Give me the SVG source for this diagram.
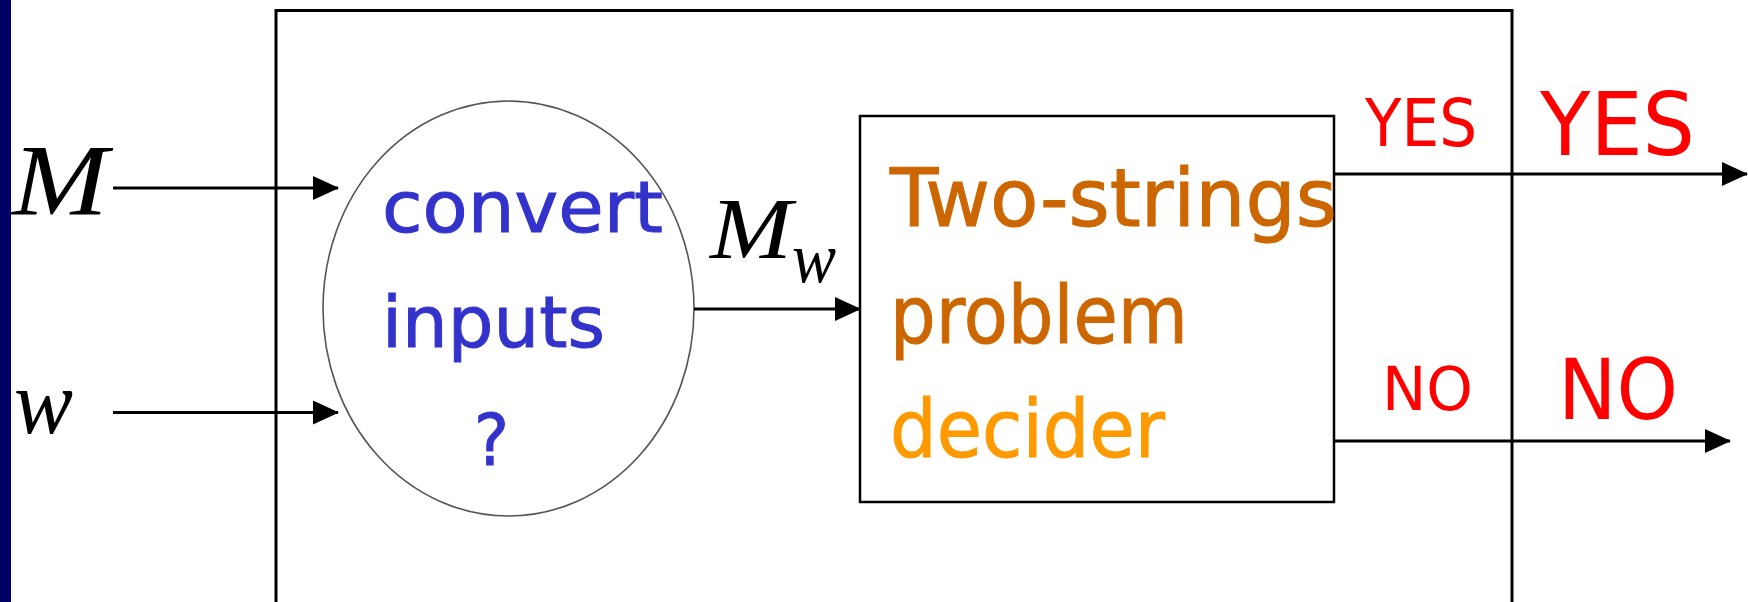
<svg xmlns="http://www.w3.org/2000/svg" width="1748" height="602" viewBox="0 0 1748 602">
<defs>
<marker id="ah" markerWidth="26" markerHeight="24" refX="25" refY="12" orient="auto" markerUnits="userSpaceOnUse">
<path d="M0,0 L26,12 L0,24 Z" fill="#000"/>
</marker>
<style>
.ln{stroke:#000;stroke-width:2.8;fill:none}
.math{font-family:"Liberation Serif",serif;font-style:italic;fill:#000}
.hand{font-family:"Comic Sans MS","DejaVu Sans",sans-serif;stroke-width:1;}
.red{font-family:"DejaVu Sans",sans-serif;fill:#FF0000}
</style>
</defs>
<rect x="0" y="0" width="1748" height="602" fill="#fff"/>
<rect x="0" y="0" width="11" height="602" fill="#000066"/>
<g id="outer-box">
<path d="M276,602 V10.5 H1512 V602" fill="none" stroke="#000" stroke-width="3"/>
</g>
<g id="label-M"><text class="math" x="12" y="215" font-size="101" textLength="96" lengthAdjust="spacingAndGlyphs">M</text></g>
<g id="label-w"><text class="math" x="14" y="433" font-size="92" textLength="59" lengthAdjust="spacingAndGlyphs">w</text></g>
<g id="converter">
<ellipse cx="508.5" cy="308.5" rx="185.5" ry="207.5" fill="none" stroke="#555" stroke-width="1.6"/>
<text class="hand" fill="#3333CC" stroke="#3333CC" font-size="72" x="382" y="232" textLength="281" lengthAdjust="spacingAndGlyphs">convert</text>
<text class="hand" fill="#3333CC" stroke="#3333CC" font-size="72" x="382" y="347" textLength="223" lengthAdjust="spacingAndGlyphs">inputs</text>
<text class="hand" fill="#3333CC" stroke="#3333CC" font-size="72" x="474" y="465" textLength="35" lengthAdjust="spacingAndGlyphs">?</text>
</g>
<g id="label-Mw">
<text class="math" x="710" y="258" font-size="86" textLength="82" lengthAdjust="spacingAndGlyphs">M</text>
<text class="math" x="792" y="282" font-size="71" textLength="44" lengthAdjust="spacingAndGlyphs">w</text>
</g>
<g id="decider">
<rect x="860" y="116" width="474" height="386" fill="none" stroke="#000" stroke-width="2.5"/>
<text class="hand" fill="#CC6600" stroke="#CC6600" font-size="80" x="890" y="226" textLength="447" lengthAdjust="spacingAndGlyphs">Two-strings</text>
<text class="hand" fill="#CC6600" stroke="#CC6600" font-size="80" x="890" y="343" textLength="298" lengthAdjust="spacingAndGlyphs">problem</text>
<text class="hand" fill="#FF9900" stroke="#FF9900" font-size="80" x="890" y="457" textLength="275" lengthAdjust="spacingAndGlyphs">decider</text>
</g>
<g id="connectors">
<line class="ln" x1="113" y1="188" x2="338" y2="188" marker-end="url(#ah)"/>
<line class="ln" x1="113" y1="412.5" x2="338" y2="412.5" marker-end="url(#ah)"/>
<line class="ln" x1="694" y1="309" x2="860" y2="309" marker-end="url(#ah)"/>
<line class="ln" x1="1334" y1="174" x2="1747" y2="174" marker-end="url(#ah)"/>
<line class="ln" x1="1334" y1="441" x2="1730" y2="441" marker-end="url(#ah)"/>
</g>
<g id="labels-out">
<text class="red" x="1365" y="146" font-size="66" textLength="112" lengthAdjust="spacingAndGlyphs">YES</text>
<text class="red" x="1382" y="410" font-size="61" textLength="91" lengthAdjust="spacingAndGlyphs">NO</text>
<text class="red" x="1540" y="155" font-size="88" textLength="155" lengthAdjust="spacingAndGlyphs">YES</text>
<text class="red" x="1558" y="419" font-size="84" textLength="120" lengthAdjust="spacingAndGlyphs">NO</text>
</g>
</svg>
